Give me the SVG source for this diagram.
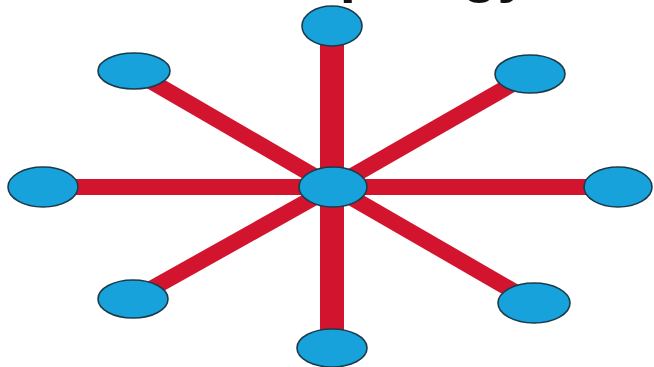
<svg xmlns="http://www.w3.org/2000/svg" width="654" height="367" viewBox="0 0 654 367">
<style>
.bg{fill:#ffffff}
.title{font-family:"Liberation Sans",Arial,sans-serif;font-weight:bold;font-size:58px;fill:#111111}
.link{stroke:#d2142e;stroke-width:16;stroke-linecap:butt;fill:none}
.link.v{stroke-width:24}
.node{fill:#17a2dc;stroke:#1b3b4a;stroke-width:1.6}
</style>
<rect class="bg" x="0" y="0" width="654" height="367"/>
<text class="title" x="337" y="-9" text-anchor="middle">Star Topology</text>
<g id="connectors">
<line class="link v" x1="332" y1="25" x2="332" y2="348"/>
<line class="link" x1="43" y1="187" x2="618" y2="187"/>
<line class="link" x1="135" y1="72" x2="333" y2="187"/>
<line class="link" x1="530" y1="74" x2="333" y2="187"/>
<line class="link" x1="133" y1="299" x2="333" y2="187"/>
<line class="link" x1="534" y1="303" x2="333" y2="187"/>
</g>
<g id="node-top"><ellipse class="node" cx="332" cy="26" rx="30" ry="20"/></g>
<g id="node-top-left"><ellipse class="node" cx="134" cy="71" rx="36" ry="18"/></g>
<g id="node-top-right"><ellipse class="node" cx="530" cy="74" rx="35" ry="19"/></g>
<g id="node-left"><ellipse class="node" cx="43" cy="187" rx="35" ry="20"/></g>
<g id="node-center"><ellipse class="node" cx="333" cy="187" rx="34" ry="20"/></g>
<g id="node-right"><ellipse class="node" cx="618" cy="187" rx="34" ry="20"/></g>
<g id="node-bottom-left"><ellipse class="node" cx="133" cy="299" rx="35" ry="19"/></g>
<g id="node-bottom-right"><ellipse class="node" cx="534" cy="303" rx="36" ry="20"/></g>
<g id="node-bottom"><ellipse class="node" cx="332" cy="348" rx="35" ry="19"/></g>
</svg>
